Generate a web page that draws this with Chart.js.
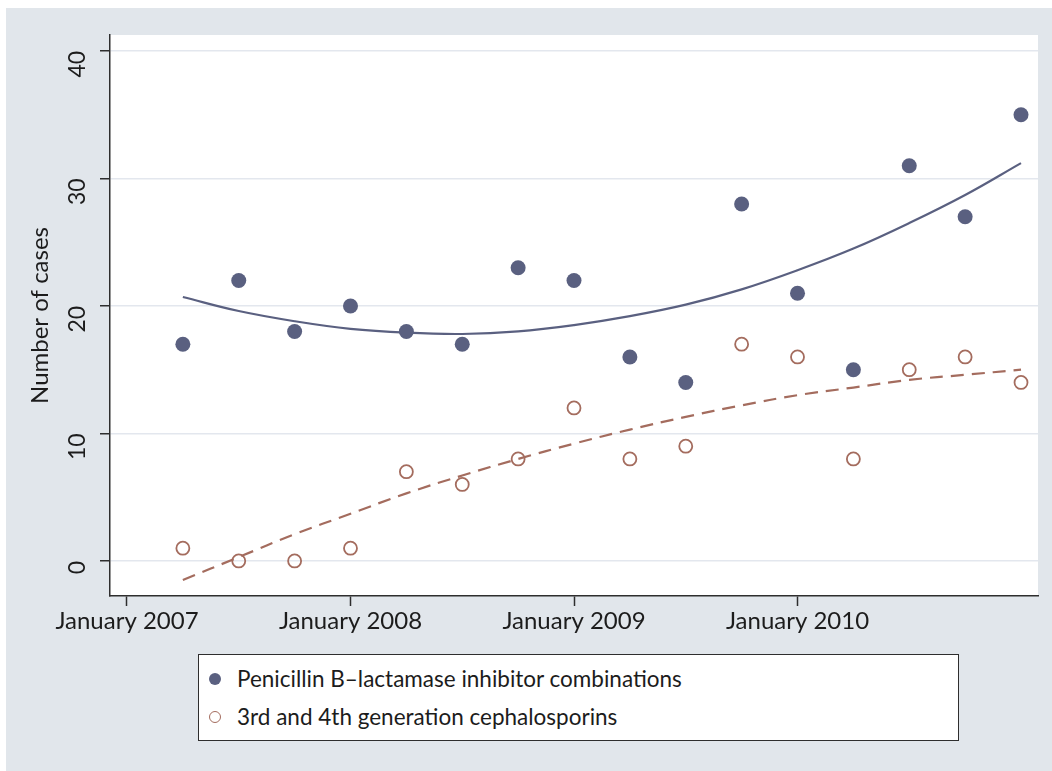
<!DOCTYPE html>
<html>
<head>
<meta charset="utf-8">
<script src="https://cdn.jsdelivr.net/npm/chart.js@4"></script>
<style>
  body { margin: 0; background: #ffffff; }
  #wrap { position: absolute; left: 6px; top: 8px; width: 1046px; height: 763px; background: #e1e6eb; }
  #legend { position: absolute; left: 192px; top: 646px; width: 759px; height: 85px; background: #fff;
            border: 1.5px solid #2e2e2e; font-family: Lato, sans-serif; font-size: 22.5px; color: #1c1c1c; }
  .row { position: absolute; left: 0; height: 30px; line-height: 30px; white-space: nowrap; }
  .mk { position: absolute; left: 10px; top: 9px; width: 12px; height: 12px; border-radius: 50%; box-sizing: border-box; }
  .lbl { position: absolute; left: 38px; top: 0; }
</style>
</head>
<body>
<div id="wrap">
  <canvas id="chart" width="1046" height="763"></canvas>
  <div id="legend"></div>
</div>
<script>
// quarterly time points, in decimal years (April 2007 ... January 2011)
const xYears = [2007.25, 2007.5, 2007.75, 2008, 2008.25, 2008.5, 2008.75, 2009,
                2009.25, 2009.5, 2009.75, 2010, 2010.25, 2010.5, 2010.75, 2011];

// number of cases
const penicillin = [17, 22, 18, 20, 18, 17, 23, 22, 16, 14, 28, 21, 15, 31, 27, 35];
const cephalosporins = [1, 0, 0, 1, 7, 6, 8, 12, 8, 9, 17, 16, 8, 15, 16, 14];

// fitted curves
const penicillinFit = [20.7, 19.6, 18.8, 18.2, 17.9, 17.8, 18.0, 18.5,
                       19.2, 20.1, 21.3, 22.8, 24.5, 26.5, 28.7, 31.2];
const cephalosporinsFit = [-1.5, 0.3, 2.1, 3.7, 5.3, 6.7, 8.0, 9.2,
                           10.3, 11.3, 12.2, 13.0, 13.6, 14.2, 14.6, 15.0];

const seriesNames = ['Penicillin B\u2013lactamase inhibitor combinations', '3rd and 4th generation cephalosporins'];
const xTickYears = [2007, 2008, 2009, 2010];
const xTickLabels = ['January 2007', 'January 2008', 'January 2009', 'January 2010'];
const yTicks = [0, 10, 20, 30, 40];

const navy = '#5a6080';
const brown = '#a46c5e';

function pts(ys) {
    return ys.map((y, i) => ({ x: xYears[i], y: y }));
}

// white plot region
const plotBg = {
    id: 'plotBg',
    beforeDraw(chart) {
        const a = chart.chartArea;
        const ctx = chart.ctx;
        ctx.save();
        ctx.fillStyle = '#ffffff';
        ctx.fillRect(a.left, a.top, a.right - a.left, a.bottom - a.top);
        ctx.restore();
    }
};

const ctx = document.getElementById('chart').getContext('2d');

const myChart = new Chart(ctx, {
    type: 'scatter',
    data: {
        datasets: [{
            label: seriesNames[0],
            data: pts(penicillin),
            backgroundColor: navy,
            borderColor: navy,
            pointRadius: 7.5,
            borderWidth: 0
        }, {
            label: seriesNames[1],
            data: pts(cephalosporins),
            backgroundColor: 'rgba(0,0,0,0)',
            borderColor: brown,
            pointRadius: 6.5,
            borderWidth: 1.8
        }, {
            type: 'line',
            data: pts(penicillinFit),
            borderColor: navy,
            borderWidth: 2.2,
            pointRadius: 0,
            tension: 0.4,
            fill: false
        }, {
            type: 'line',
            data: pts(cephalosporinsFit),
            borderColor: brown,
            borderWidth: 2.2,
            borderDash: [13, 8],
            pointRadius: 0,
            tension: 0.4,
            fill: false
        }]
    },
    options: {
        responsive: false,
        animation: false,
        layout: { padding: { left: 0, right: 14, top: 27, bottom: 0 } },
        plugins: {
            legend: { display: false },
            tooltip: { enabled: false }
        },
        scales: {
            x: {
                type: 'linear',
                min: 2006.924,
                max: 2011.076,
                afterBuildTicks: (scale) => { scale.ticks = xTickYears.map(v => ({ value: v })); },
                afterFit: (scale) => { scale.height = 175; scale.paddingLeft = 0; scale.paddingRight = 0; },
                grid: { drawOnChartArea: false, drawTicks: true, tickLength: 10, tickColor: '#2e2e2e', tickWidth: 1.5 },
                border: { color: '#2e2e2e', width: 1.5 },
                ticks: {
                    color: '#1c1c1c',
                    font: { family: 'Lato', size: 24 },
                    padding: 1,
                    maxRotation: 0,
                    callback: (v) => xTickLabels[xTickYears.indexOf(v)]
                }
            },
            y: {
                min: -2.75,
                max: 41.25,
                afterBuildTicks: (scale) => { scale.ticks = yTicks.map(v => ({ value: v })); },
                afterFit: (scale) => { scale.width = 104; scale.paddingTop = 0; scale.paddingBottom = 0; },
                grid: { color: '#e3e7ee', lineWidth: 1.5, tickLength: 10, tickColor: '#2e2e2e', tickWidth: 1.5 },
                border: { color: '#2e2e2e', width: 1.5 },
                title: {
                    display: true,
                    text: 'Number of cases',
                    color: '#1c1c1c',
                    font: { family: 'Lato', size: 24 },
                    padding: { top: 20, bottom: 0 }
                },
                ticks: {
                    color: '#1c1c1c',
                    font: { family: 'Lato', size: 23 },
                    minRotation: 90,
                    maxRotation: 90,
                    padding: 22
                }
            }
        }
    },
    plugins: [plotBg]
});

// legend box
const legend = document.getElementById('legend');
const markers = [
    { bg: navy, border: 'none' },
    { bg: 'transparent', border: '1.8px solid ' + brown }
];
seriesNames.forEach((name, i) => {
    const row = document.createElement('div');
    row.className = 'row';
    row.style.top = (9 + i * 38) + 'px';
    const mk = document.createElement('span');
    mk.className = 'mk';
    mk.style.background = markers[i].bg;
    mk.style.border = markers[i].border;
    const lbl = document.createElement('span');
    lbl.className = 'lbl';
    lbl.textContent = name;
    row.appendChild(mk);
    row.appendChild(lbl);
    legend.appendChild(row);
});
</script>
</body>
</html>
